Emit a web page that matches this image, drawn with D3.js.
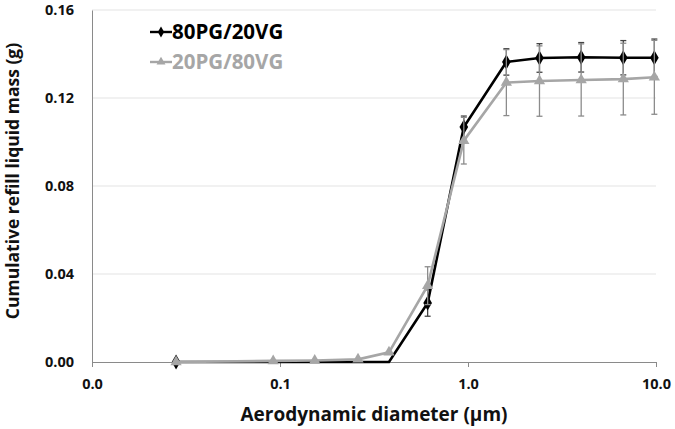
<!DOCTYPE html>
<html>
<head>
<meta charset="utf-8">
<script src="https://cdn.jsdelivr.net/npm/d3@7"></script>
<style>
body { margin: 0; background: #fff; }
svg { font-family: "Open Sans", "DejaVu Sans", sans-serif; font-weight: bold; }
</style>
</head>
<body>
<svg width="675" height="429"></svg>
<script>
// diameters (µm)
var diam = [0.028, 0.092, 0.153, 0.26, 0.38, 0.61, 0.95, 1.6, 2.4, 4.0, 6.7, 9.8];
// 80PG/20VG
var pg80 = [0, 0, 0, 0, 0, 0.0268, 0.1068, 0.1364, 0.1382, 0.1385, 0.1383, 0.1383];
var pg80Err = [0, 0, 0, 0, 0, 0.006, 0.005, 0.006, 0.0065, 0.0067, 0.0078, 0.0085];
// 20PG/80VG
var vg80 = [0, 0.0005, 0.0007, 0.0012, 0.0044, 0.0347, 0.1006, 0.127, 0.1277, 0.1282, 0.1286, 0.1294];
var vg80Err = [0, 0, 0, 0, 0, 0.0086, 0.0106, 0.015, 0.016, 0.0164, 0.0163, 0.0168];
var yTicks = [0, 0.04, 0.08, 0.12, 0.16];
var xTicks = [0.01, 0.1, 1, 10];

var svg = d3.select("svg");
var mLeft = 92, mRight = 656, mTop = 10, mBottom = 362;

var x = d3.scaleLog().domain([0.01, 10]).range([mLeft, mRight]);
var y = d3.scaleLinear().domain([0, 0.16]).range([mBottom, mTop]);

// gridlines
svg.append("g").selectAll("line")
  .data(yTicks.slice(1))
  .enter().append("line")
  .attr("x1", mLeft).attr("x2", mRight)
  .attr("y1", d => y(d)).attr("y2", d => y(d))
  .attr("stroke", "#e3e3e3").attr("stroke-width", 1);

// y axis
var yAxis = d3.axisLeft(y).tickValues(yTicks).tickSize(0).tickPadding(18).tickFormat(d3.format(".2f"));
var gy = svg.append("g").attr("transform", "translate(" + mLeft + ",0)").call(yAxis);
gy.select(".domain").attr("stroke", "#8a8a8a");
gy.selectAll("text").attr("font-size", 14.5).attr("fill", "#111").style("font-family", "Open Sans");

// x axis
var xAxis = d3.axisBottom(x).tickValues(xTicks).tickSize(5).tickPadding(12).tickFormat(d3.format(".1f"));
var gx = svg.append("g").attr("transform", "translate(0," + mBottom + ")").call(xAxis);
gx.select(".domain").attr("stroke", "#8a8a8a");
gx.selectAll(".tick line").attr("stroke", "#8a8a8a");
gx.selectAll("text").attr("font-size", 14.5).attr("fill", "#111").style("font-family", "Open Sans");

// axis titles
svg.append("text")
  .attr("x", (mLeft + mRight) / 2).attr("y", 421)
  .attr("text-anchor", "middle").attr("font-size", 19).attr("fill", "#111")
  .text("Aerodynamic diameter (µm)");
svg.append("text")
  .attr("transform", "translate(19,181) rotate(-90)")
  .attr("text-anchor", "middle").attr("font-size", 17.5).attr("fill", "#111")
  .text("Cumulative refill liquid mass (g)");

function drawSeries(vals, errs, color, errColor, shape) {
  var pts = diam.map((d, i) => ({x: d, y: vals[i], e: errs[i], i: i}));
  var g = svg.append("g");
  // error bars
  var eb = g.selectAll(".eb").data(pts.filter(p => p.e > 0)).enter().append("g");
  eb.append("line")
    .attr("x1", p => x(p.x)).attr("x2", p => x(p.x))
    .attr("y1", p => y(p.y - p.e)).attr("y2", p => y(p.y + p.e))
    .attr("stroke", errColor).attr("stroke-width", 1.3);
  [-1, 1].forEach(function(s) {
    eb.append("line")
      .attr("x1", p => x(p.x) - 3).attr("x2", p => x(p.x) + 3)
      .attr("y1", p => y(p.y + s * p.e)).attr("y2", p => y(p.y + s * p.e))
      .attr("stroke", errColor).attr("stroke-width", 1.3);
  });
  g.append("path")
    .datum(pts)
    .attr("d", d3.line().x(p => x(p.x)).y(p => y(p.y)))
    .attr("fill", "none").attr("stroke", color).attr("stroke-width", 2.6);
  // zero points after the first sit under the axis, no marker shown there
  g.selectAll(".m").data(pts.filter(p => p.i === 0 || p.y > 0)).enter().append("path")
    .attr("transform", p => "translate(" + x(p.x) + "," + y(p.y) + ")")
    .attr("d", d3.symbol().type(shape).size(shape === d3.symbolDiamond ? 65 : 55))
    .attr("fill", color);
}

drawSeries(pg80, pg80Err, "#000", "#444", d3.symbolDiamond);
drawSeries(vg80, vg80Err, "#a6a6a6", "#8c8c8c", d3.symbolTriangle);

// legend
var legend = [
  {name: "80PG/20VG", color: "#000", shape: d3.symbolDiamond, y: 32},
  {name: "20PG/80VG", color: "#a6a6a6", shape: d3.symbolTriangle, y: 62}
];
var lg = svg.append("g").selectAll("g").data(legend).enter().append("g");
lg.append("line")
  .attr("x1", 150).attr("x2", 172).attr("y1", d => d.y).attr("y2", d => d.y)
  .attr("stroke", d => d.color).attr("stroke-width", 2.4);
lg.append("path")
  .attr("transform", d => "translate(161," + d.y + ")")
  .attr("d", d => d3.symbol().type(d.shape).size(35)())
  .attr("fill", d => d.color);
lg.append("text")
  .attr("x", 172).attr("y", d => d.y + 7)
  .attr("font-size", 20.5).attr("fill", d => d.color)
  .text(d => d.name);
</script>
</body>
</html>
